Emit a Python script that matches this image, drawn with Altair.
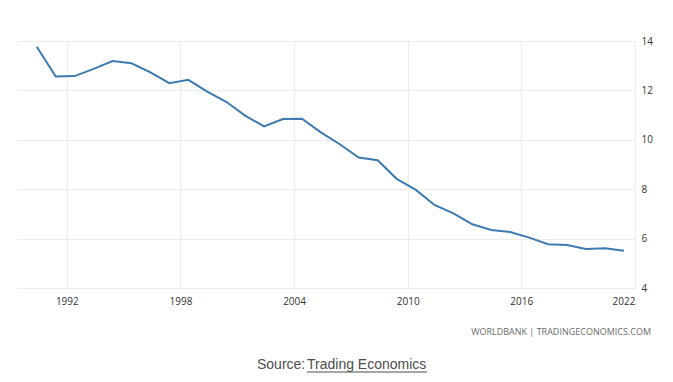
import altair as alt
import pandas as pd

years = list(range(1990, 2022))
values = [13.77, 12.56, 12.58, 12.87, 13.19, 13.10, 12.73, 12.29, 12.43, 11.95,
          11.54, 10.98, 10.54, 10.84, 10.85, 10.30, 9.82, 9.28, 9.17, 8.42,
          7.98, 7.36, 7.02, 6.58, 6.35, 6.27, 6.04, 5.77, 5.74, 5.58,
          5.61, 5.51]
tick_years = [1992, 1998, 2004, 2010, 2016, 2022]
y_ticks = [4, 6, 8, 10, 12, 14]
credit_text = ["WORLDBANK | TRADINGECONOMICS.COM"]
source_prefix = ["Source: "]
source_link = ["Trading Economics"]

df = pd.DataFrame({"date": [f"{y}-06-01" for y in years], "value": values})

x_enc = alt.X(
    "date:T",
    scale=alt.Scale(
        type="utc",
        domain=[alt.DateTime(year=1989, month=5, date=15, utc=True),
                alt.DateTime(year=2022, month=1, date=2, utc=True)],
    ),
    axis=alt.Axis(
        values=[alt.DateTime(year=y, utc=True) for y in tick_years],
        format="%Y",
        title=None,
        domain=False,
        ticks=False,
        grid=True,
        gridColor="#ececec",
        labelColor="#333333",
        labelFont="Open Sans",
        labelFontSize=10,
        labelPadding=8,
    ),
)
y_enc = alt.Y(
    "value:Q",
    scale=alt.Scale(domain=[4, 14], nice=False, zero=False),
    axis=alt.Axis(
        orient="right",
        values=y_ticks,
        title=None,
        domain=False,
        ticks=False,
        grid=True,
        gridColor="#ececec",
        labelColor="#333333",
        labelFont="Open Sans",
        labelFontSize=10,
        labelPadding=6,
    ),
)

line = alt.Chart(df).mark_line(color="#3d7ab0", strokeWidth=2).encode(x=x_enc, y=y_enc)

credit = alt.Chart(pd.DataFrame({"t": credit_text})).mark_text(
    align="right", baseline="middle", font="Open Sans", fontSize=9, color="#6b6b6b"
).encode(text="t:N", x=alt.value(634), y=alt.value(291))

src1 = alt.Chart(pd.DataFrame({"t": source_prefix})).mark_text(
    align="left", baseline="middle", font="Liberation Sans", fontSize=14, color="#4d4d4d"
).encode(text="t:N", x=alt.value(240), y=alt.value(324))

src2 = alt.Chart(pd.DataFrame({"t": source_link})).mark_text(
    align="left", baseline="middle", font="Liberation Sans", fontSize=14, color="#4d4d4d"
).encode(text="t:N", x=alt.value(290), y=alt.value(324))

underline = alt.Chart(pd.DataFrame({"t": source_link})).mark_rule(
    color="#4d4d4d", strokeWidth=1
).encode(x=alt.value(290), x2=alt.value(410), y=alt.value(331))

chart = alt.layer(line, credit, src1, src2, underline).properties(
    width=618,
    height=247,
    autosize=alt.AutoSizeParams(type="none"),
    padding={"left": 9, "top": 33, "right": 30, "bottom": 92},
).configure_view(stroke=None)

chart.save("out.html", embed_options={"renderer": "svg", "actions": False})
